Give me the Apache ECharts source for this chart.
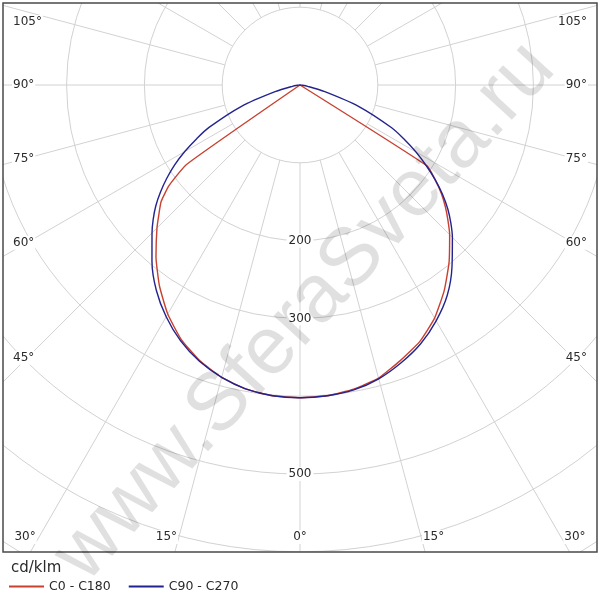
<!DOCTYPE html>
<html><head><meta charset="utf-8">
<script src="https://cdn.jsdelivr.net/npm/echarts@6/dist/echarts.min.js"></script>
<style>html,body{margin:0;padding:0;background:#fff}#c{width:600px;height:600px}</style>
</head><body><div id="c"></div>
<script>
// ---- data (cd/klm) ----
const gammaAngles = [0,5,10,15,20,25,30,35,40,45,47.5,50,52.5,55,57.5,60,62.5,65,70,75,80,85,90];
const c0Values    = [402,401,397,390,377,364,346,323,298,272,258,244,229,212,194,0,0,0,0,0,0,0,0];     // right half (C0)
const c180Values  = [402,401,397,389,377,361,340,315,288,260,246,233,212,178,0,0,0,0,0,0,0,0,0];      // left half (C180)
const c90Values   = [402,401,398,391,380,367,350,330,304,277,263,248,231,212,192,172,151,130,80,33,10,2,0]; // right half (C90)
const c270Values  = [402,401,397,389,378,363,344,322,296,269,256,242,226,209,191,171,150,129,80,33,10,2,0]; // left half (C270)
const seriesNames = ['C0 - C180', 'C90 - C270'];
const radiusLabelValues = [200, 300, 500];
const bottomLabelAngles = [0, 15, 30];
const sideLabelAngles = [45, 60, 75, 90, 105];
const unitLabel = 'cd/klm';
const watermark = 'www.SferaSveta.ru';

// ---- layout ----
const CX = 300, CY = 85, PX_PER_UNIT = 0.778;
const R_MIN = 100, R_MAX = 800;
const FRAME = {x: 3, y: 3, w: 594, h: 549};
const FONT = '"DejaVu Sans", Verdana, sans-serif';

function buildCurve(rightVals, leftVals) {
  const pts = [];
  for (let i = gammaAngles.length - 1; i >= 0; i--) pts.push([rightVals[i], 360 - gammaAngles[i]]);
  for (let i = 1; i < gammaAngles.length; i++) pts.push([leftVals[i], gammaAngles[i]]);
  return pts;
}

function angleLabelGraphics() {
  const els = [];
  const ty = 537;
  bottomLabelAngles.forEach(a => {
    const t = a + '\u00b0';
    if (a === 0) { els.push({x: CX, y: ty, text: t}); return; }
    const dx = (ty - CY) * Math.tan(a * Math.PI / 180);
    const off = 11 + a * 0.1;
    els.push({x: CX - dx - off, y: ty, text: t});
    els.push({x: CX + dx + off, y: ty, text: t});
  });
  sideLabelAngles.forEach(a => {
    const t = a + '\u00b0';
    const rad = a * Math.PI / 180;
    let y = CY + (CX - 25) * Math.cos(rad) / Math.sin(rad) - 6 * Math.cos(rad) + 2;
    if (Math.abs(a - 90) < 1e-6) y = CY;
    y = Math.max(y, 22);
    els.push({x: 12, y: y, text: t, align: 'left'});
    els.push({x: 588, y: y, text: t, align: 'right'});
  });
  return els.map(e => ({
    type: 'text', x: e.x, y: e.y, z: 60,
    style: {text: e.text, align: e.align || 'center', verticalAlign: 'middle',
            fontSize: 12, fontFamily: FONT, fill: '#2a2a2a',
            backgroundColor: '#fff', padding: [1, 1]}
  }));
}

const chart = echarts.init(document.getElementById('c'), null, {renderer: 'canvas'});
const innerR = R_MIN * PX_PER_UNIT, outerR = R_MAX * PX_PER_UNIT;
const hidden = {axisLine: {show: false}, axisTick: {show: false}, axisLabel: {show: false}, splitLine: {show: false}};

const option = {
  animation: false,
  backgroundColor: '#fff',
  polar: [
    {center: [CX, CY], radius: [innerR, outerR]},
    {center: [CX, CY], radius: [0, outerR]}
  ],
  angleAxis: [
    {polarIndex: 0, type: 'value', min: 0, max: 360, interval: 15, startAngle: -90, clockwise: true, z: 0,
     axisLine: {show: false}, axisTick: {show: false}, axisLabel: {show: false},
     splitLine: {show: true, lineStyle: {color: '#d2d2d2', width: 1}}},
    Object.assign({polarIndex: 1, type: 'value', min: 0, max: 360, startAngle: -90, clockwise: true}, hidden)
  ],
  radiusAxis: [
    {polarIndex: 0, type: 'value', min: R_MIN, max: R_MAX, interval: 100, z: 1,
     axisLine: {show: false}, axisTick: {show: false},
     axisLabel: {show: true, customValues: radiusLabelValues, margin: 0, align: 'center', verticalAlign: 'middle',
                 fontSize: 12, fontFamily: FONT, color: '#2a2a2a', backgroundColor: '#fff', padding: [1, 2]},
     splitLine: {show: true, lineStyle: {color: '#d2d2d2', width: 1}}},
    Object.assign({polarIndex: 1, type: 'value', min: 0, max: R_MAX}, hidden)
  ],
  title: {text: unitLabel, left: 6, top: 556, z: 70,
          textStyle: {fontSize: 15, fontWeight: 'normal', color: '#2a2a2a', fontFamily: FONT}},
  legend: {left: 4, top: 575, z: 70, itemWidth: 35, itemHeight: 2, itemGap: 18, icon: 'rect',
           data: seriesNames, textStyle: {fontSize: 12.5, color: '#2a2a2a', fontFamily: FONT}},
  series: [
    {name: seriesNames[0], type: 'line', coordinateSystem: 'polar', polarIndex: 1, symbol: 'none', clip: false, z: 3,
     smooth: 0.15,
     lineStyle: {color: '#c8402f', width: 1.4}, itemStyle: {color: '#c8402f'},
     data: buildCurve(c0Values, c180Values)},
    {name: seriesNames[1], type: 'line', coordinateSystem: 'polar', polarIndex: 1, symbol: 'none', clip: false, z: 4,
     smooth: 0.3,
     lineStyle: {color: '#23238f', width: 1.4}, itemStyle: {color: '#23238f'},
     data: buildCurve(c90Values, c270Values)}
  ],
  graphic: [
    {type: 'rect', z: 50, shape: {x: 0, y: FRAME.y + FRAME.h, width: 600, height: 600 - FRAME.y - FRAME.h}, style: {fill: '#fff'}},
    {type: 'rect', z: 50, shape: {x: 0, y: 0, width: FRAME.x, height: 600}, style: {fill: '#fff'}},
    {type: 'rect', z: 50, shape: {x: FRAME.x + FRAME.w, y: 0, width: 600, height: 600}, style: {fill: '#fff'}},
    {type: 'rect', z: 50, shape: {x: 0, y: 0, width: 600, height: FRAME.y}, style: {fill: '#fff'}},
    {type: 'rect', z: 55, shape: {x: FRAME.x, y: FRAME.y, width: FRAME.w, height: FRAME.h},
     style: {fill: 'none', stroke: '#4a4a4a', lineWidth: 1.5}},
    ...angleLabelGraphics(),
    {type: 'text', z: 65, x: 305, y: 312, rotation: 47.5 * Math.PI / 180,
     style: {text: watermark, fontSize: 82, fontFamily: '"Liberation Sans", Arial, sans-serif',
             fill: 'rgba(0,0,0,0.12)', align: 'center', verticalAlign: 'middle'}}
  ]
};
chart.setOption(option);
</script>
</body></html>
